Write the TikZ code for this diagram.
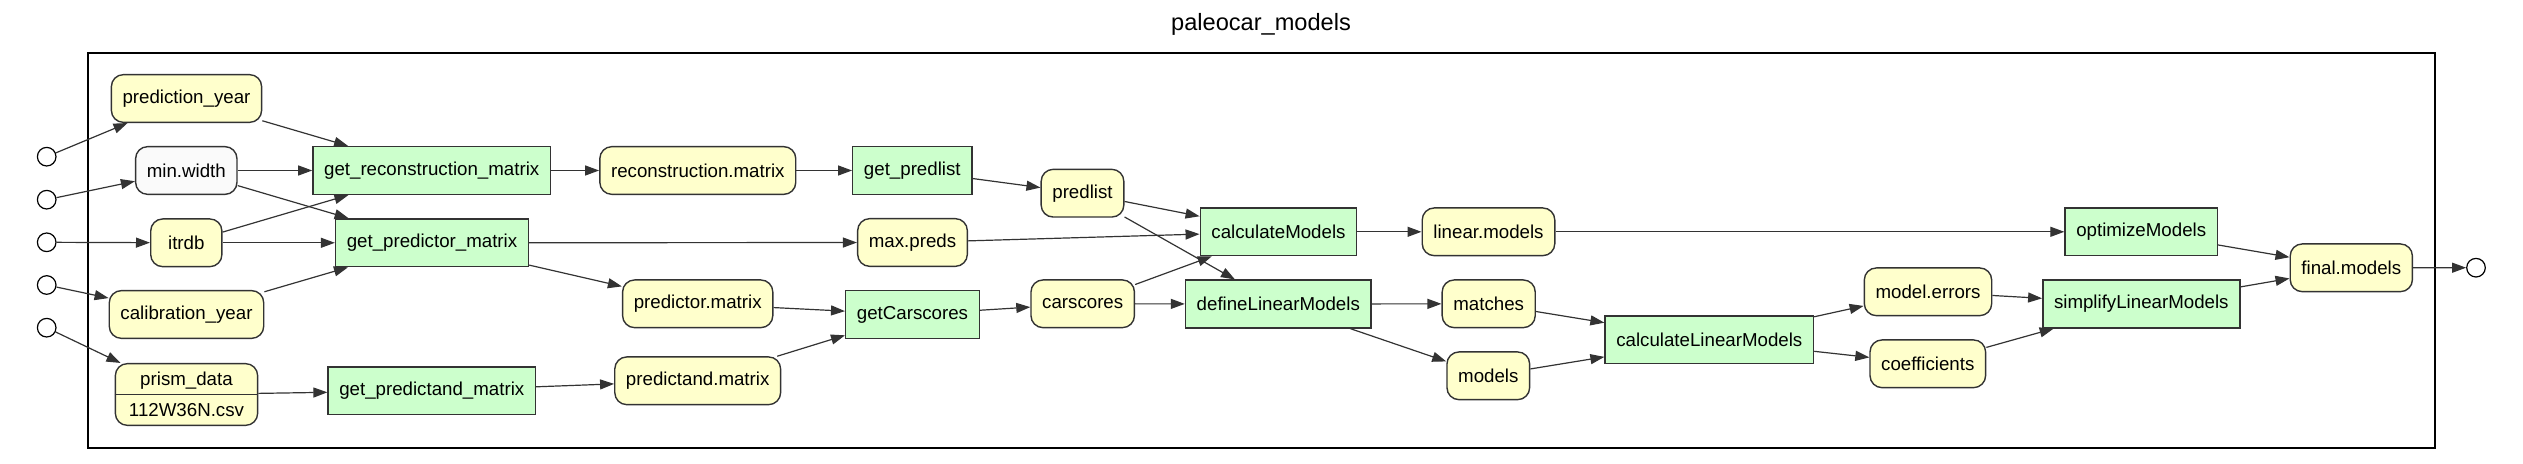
\documentclass[tikz,border=0pt]{standalone}
\usepackage{fontspec}
\setmainfont{Liberation Sans}
\usetikzlibrary{arrows.meta}

\definecolor{datafill}{HTML}{FFFFCC}
\definecolor{funcfill}{HTML}{CCFFCC}
\definecolor{paramfill}{HTML}{FAFAFA}
\definecolor{edgegray}{HTML}{333333}

\tikzset{
  datanode/.style={draw=edgegray, line width=0.7pt, fill=datafill, rounded corners=6pt,
    minimum height=23.85pt, minimum width=35.6pt, inner xsep=5.6pt},
  paramnode/.style={datanode, fill=paramfill},
  funcnode/.style={draw=edgegray, line width=0.7pt, fill=funcfill,
    minimum height=23.85pt, inner xsep=5.6pt},
  port/.style={circle, draw=black, line width=0.6pt, fill=white, minimum size=9.3pt, inner sep=0pt},
  flow/.style={-{Triangle[length=7pt,width=5pt]}, line width=0.6pt, draw=edgegray},
}

\begin{document}
\begin{tikzpicture}[x=0.5pt, y=-0.5pt, font=\fontsize{9.35}{11}\selectfont]
  \useasboundingbox (0,0) rectangle (2523,464);

  % frame and title
  \node[font=\fontsize{11.8}{14}\selectfont] (title) at (1261,24) {paleocar\_models};
  \draw[line width=1.1pt] (87.7,52.7) rectangle (2434.7,448);

  % inputs
  \node[port] (in1) at (46.7,156.7) {};
  \node[port] (in2) at (46.7,199.7) {};
  \node[port] (in3) at (46.7,242.3) {};
  \node[port] (in4) at (46.7,285) {};
  \node[port] (in5) at (46.7,327.7) {};

  \node[datanode]  (predYear) at (186.5,98.5)  {prediction\_year};
  \node[paramnode] (minWidth) at (186.3,170.5) {min.width};
  \node[datanode]  (itrdb)    at (186.3,242.8) {itrdb};
  \node[datanode]  (calYear)  at (186.5,314.5) {calibration\_year};
  \node[datanode, minimum width=71.15pt, minimum height=30.85pt, align=center,
        font=\fontsize{9.35}{15.4}\selectfont] (prism) at (186.5,394.5) {prism\_data\\112W36N.csv};
  \draw[draw=edgegray, line width=0.7pt] (prism.west) -- (prism.east);

  % matrix builders
  \node[funcnode] (getRecon)      at (431.7,170.5) {get\_reconstruction\_matrix};
  \node[funcnode] (getPredictor)  at (432,242.8)   {get\_predictor\_matrix};
  \node[funcnode] (getPredictand) at (431.8,390.7) {get\_predictand\_matrix};

  \node[datanode] (reconMat)      at (697.8,170.5) {reconstruction.matrix};
  \node[datanode] (predictorMat)  at (697.7,303.8) {predictor.matrix};
  \node[datanode] (predictandMat) at (697.7,380.8) {predictand.matrix};

  \node[funcnode] (getPredlist)  at (912.3,170.5) {get\_predlist};
  \node[datanode] (maxPreds)     at (912.5,242.5) {max.preds};
  \node[funcnode] (getCarscores) at (912.5,314.5) {getCarscores};

  \node[datanode] (predlist)  at (1082.5,193.2) {predlist};
  \node[datanode] (carscores) at (1082.7,303.8) {carscores};

  % model fitting
  \node[funcnode] (calcModels) at (1278.5,231.8) {calculateModels};
  \node[funcnode] (defineLM)   at (1278.3,304)   {defineLinearModels};

  \node[datanode] (linModels) at (1488.5,231.8) {linear.models};
  \node[datanode] (matches)   at (1488.7,303.8) {matches};
  \node[datanode] (models)    at (1488.3,375.8) {models};

  \node[funcnode] (calcLM) at (1709.3,339.8) {calculateLinearModels};

  \node[datanode] (modelErrors) at (1928,291.8)   {model.errors};
  \node[datanode] (coefs)       at (1927.8,363.8) {coefficients};

  \node[funcnode] (optModels)  at (2141.2,231.8) {optimizeModels};
  \node[funcnode] (simplifyLM) at (2141.3,304)   {simplifyLinearModels};

  \node[datanode] (finalModels) at (2351.3,267.8) {final.models};
  \node[port] (out) at (2476,267.7) {};

  % edges
  \draw[flow] (in1) -- (predYear);
  \draw[flow] (in2) -- (minWidth);
  \draw[flow] (in3) -- (itrdb);
  \draw[flow] (in4) -- (calYear);
  \draw[flow] (in5) -- (prism);

  \draw[flow] (predYear) -- (getRecon);
  \draw[flow] (minWidth) -- (getRecon);
  \draw[flow] (minWidth) -- (getPredictor);
  \draw[flow] (itrdb) -- (getRecon);
  \draw[flow] (itrdb) -- (getPredictor);
  \draw[flow] (calYear) -- (getPredictor);
  \draw[flow] (prism) -- (getPredictand);

  \draw[flow] (getRecon) -- (reconMat);
  \draw[flow] (getPredictor) -- (maxPreds);
  \draw[flow] (getPredictor) -- (predictorMat);
  \draw[flow] (getPredictand) -- (predictandMat);

  \draw[flow] (reconMat) -- (getPredlist);
  \draw[flow] (predictorMat) -- (getCarscores);
  \draw[flow] (predictandMat) -- (getCarscores);
  \draw[flow] (getPredlist) -- (predlist);
  \draw[flow] (getCarscores) -- (carscores);

  \draw[flow] (predlist) -- (calcModels);
  \draw[flow] (predlist) -- (defineLM);
  \draw[flow] (maxPreds) -- (calcModels);
  \draw[flow] (carscores) -- (calcModels);
  \draw[flow] (carscores) -- (defineLM);

  \draw[flow] (calcModels) -- (linModels);
  \draw[flow] (defineLM) -- (matches);
  \draw[flow] (defineLM) -- (models);
  \draw[flow] (linModels) -- (optModels);
  \draw[flow] (matches) -- (calcLM);
  \draw[flow] (models) -- (calcLM);
  \draw[flow] (calcLM) -- (modelErrors);
  \draw[flow] (calcLM) -- (coefs);
  \draw[flow] (modelErrors) -- (simplifyLM);
  \draw[flow] (coefs) -- (simplifyLM);
  \draw[flow] (optModels) -- (finalModels);
  \draw[flow] (simplifyLM) -- (finalModels);
  \draw[flow] (finalModels) -- (out);
\end{tikzpicture}
\end{document}
